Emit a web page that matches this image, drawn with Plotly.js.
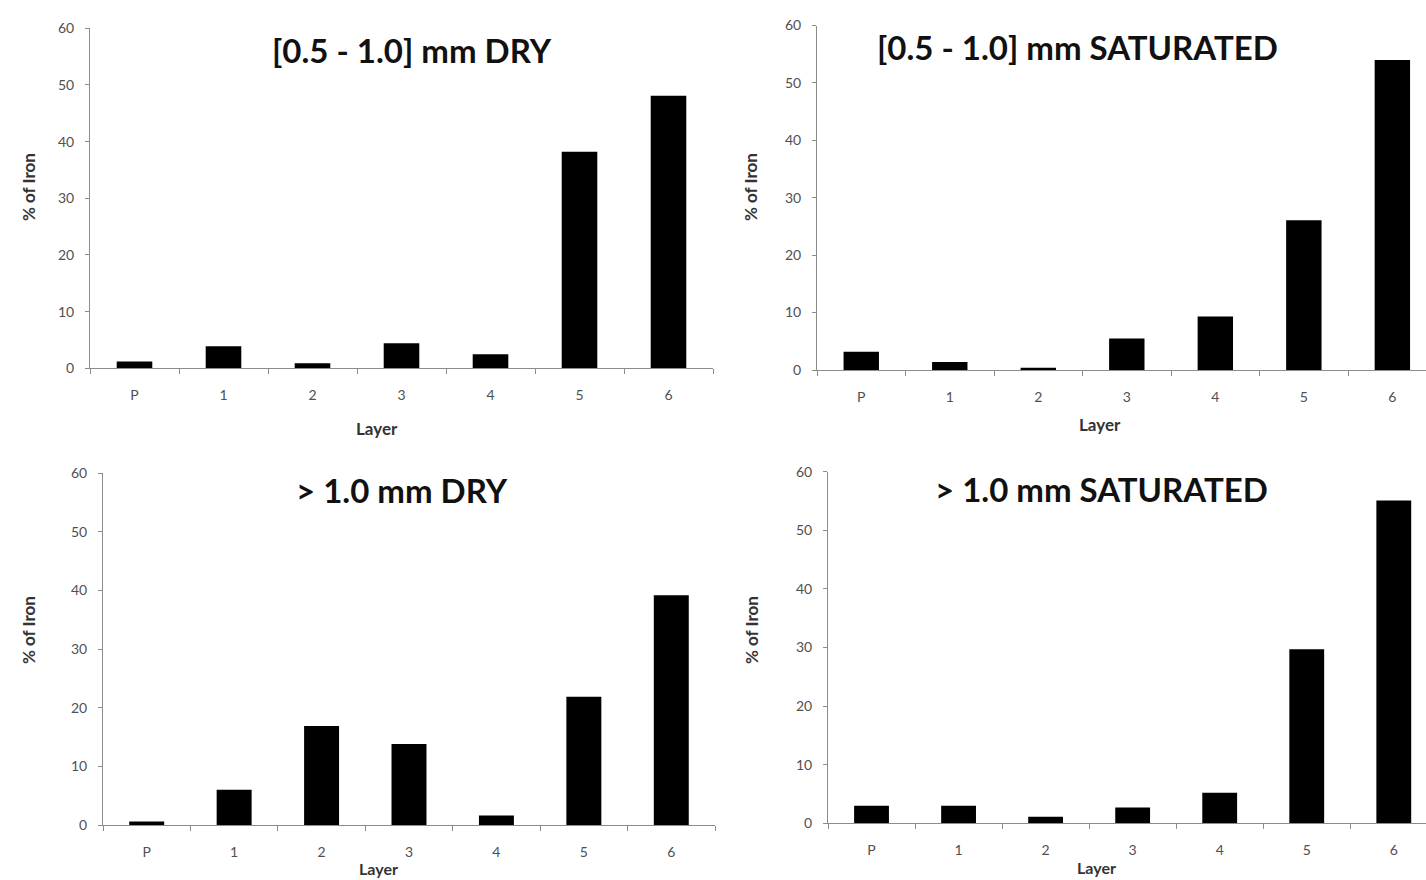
<!DOCTYPE html>
<html>
<head>
<meta charset="utf-8">
<script src="https://cdn.plot.ly/plotly-3.0.1.min.js"></script>
<style>html,body{margin:0;padding:0;background:#fff;}#chart{width:1426px;height:880px;}</style>
</head>
<body>
<div id="chart"></div>
<script>
// ---- data ----
const layers = ['P', '1', '2', '3', '4', '5', '6'];
const dry05 = [1.2, 3.9, 0.9, 4.4, 2.5, 38.2, 48.1];
const sat05 = [3.2, 1.4, 0.4, 5.5, 9.3, 26.1, 54.0];
const dry10 = [0.6, 6.0, 16.9, 13.8, 1.6, 21.9, 39.2];
const sat10 = [3.0, 3.0, 1.1, 2.7, 5.2, 29.7, 55.1];
const panelTitles = ['[0.5 - 1.0] mm DRY', '[0.5 - 1.0] mm SATURATED', '> 1.0 mm DRY', '> 1.0 mm SATURATED'];
const xTitle = 'Layer';
const yTitle = '% of Iron';

// ---- layout helpers (pixel geometry) ----
const W = 1426, H = 880;
const px = v => v / W;
const py = v => 1 - v / H;
const FONT = 'Lato, "Open Sans", sans-serif';

const series = [dry05, sat05, dry10, sat10];
// [left, right, top(60), bottom(0), xRangeMax]
const geo = [
  [90, 713, 28.3, 368.3, 6.5],
  [817, 1426, 25.5, 370, 6.38],
  [103, 715, 473.3, 825, 6.5],
  [828, 1426, 471.7, 823.3, 6.37]
];
const titlePos = [[412, 50], [1077, 47], [402, 490], [1101, 489]];
const xTitlePos = [[377, 428], [1100, 425], [378, 868], [1096, 867]];
const yTitlePos = [[28, 187], [750, 187], [28, 630], [751, 630]];

const data = series.map((s, i) => ({
  type: 'bar',
  x: layers,
  y: s,
  xaxis: i === 0 ? 'x' : 'x' + (i + 1),
  yaxis: i === 0 ? 'y' : 'y' + (i + 1),
  marker: {color: '#000000', line: {width: 0}},
  width: 0.4,
  hoverinfo: 'x+y',
  showlegend: false
}));

const layout = {
  width: W, height: H,
  margin: {l: 0, r: 0, t: 0, b: 0},
  paper_bgcolor: '#ffffff',
  plot_bgcolor: '#ffffff',
  font: {family: FONT, color: '#505050', size: 14},
  showlegend: false,
  annotations: []
};

geo.forEach((g, i) => {
  const k = i === 0 ? '' : String(i + 1);
  layout['xaxis' + k] = {
    type: 'category',
    domain: [px(g[0]), px(g[1])],
    range: [-0.5, g[4]],
    anchor: 'y' + k,
    showline: true, linecolor: '#8c8c8c', linewidth: 1,
    ticks: 'outside', ticklen: 5, tickcolor: '#8c8c8c', tickson: 'boundaries',
    showgrid: false, zeroline: false,
    tickfont: {family: FONT, size: 14, color: '#505050'},
    ticklabelstandoff: 14,
    fixedrange: true
  };
  layout['yaxis' + k] = {
    domain: [py(g[3]), py(g[2])],
    range: [0, 60],
    dtick: 10,
    anchor: 'x' + k,
    showline: true, linecolor: '#8c8c8c', linewidth: 1,
    ticks: 'outside', ticklen: 4, tickcolor: '#8c8c8c',
    showgrid: false, zeroline: false,
    tickfont: {family: FONT, size: 14, color: '#505050'},
    ticklabelstandoff: 8,
    fixedrange: true
  };
  layout.annotations.push({
    text: '<b>' + panelTitles[i].replace('>', '&gt;') + '</b>',
    xref: 'paper', yref: 'paper', x: px(titlePos[i][0]), y: py(titlePos[i][1]),
    xanchor: 'center', yanchor: 'middle', showarrow: false,
    font: {family: FONT, size: 33, color: '#111111'}
  });
  layout.annotations.push({
    text: '<b>' + xTitle + '</b>',
    xref: 'paper', yref: 'paper', x: px(xTitlePos[i][0]), y: py(xTitlePos[i][1]),
    xanchor: 'center', yanchor: 'middle', showarrow: false,
    font: {family: FONT, size: i < 2 ? 17 : 16, color: '#333333'}
  });
  layout.annotations.push({
    text: '<b>' + yTitle + '</b>',
    xref: 'paper', yref: 'paper', x: px(yTitlePos[i][0]), y: py(yTitlePos[i][1]),
    xanchor: 'center', yanchor: 'middle', showarrow: false, textangle: -90,
    font: {family: FONT, size: 17, color: '#333333'}
  });
});

Plotly.newPlot('chart', data, layout, {displayModeBar: false, staticPlot: true});
</script>
</body>
</html>
